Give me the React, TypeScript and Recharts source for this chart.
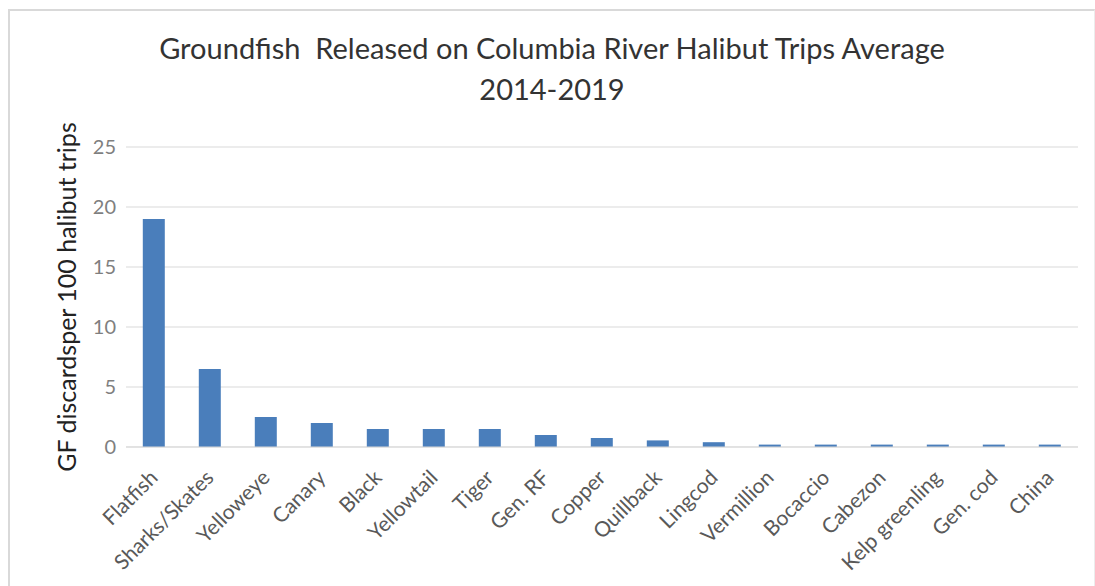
import React from "react";
import { BarChart, Bar, XAxis, YAxis, CartesianGrid } from "recharts";

const species = [
  "Flatfish",
  "Sharks/Skates",
  "Yelloweye",
  "Canary",
  "Black",
  "Yellowtail",
  "Tiger",
  "Gen. RF",
  "Copper",
  "Quillback",
  "Lingcod",
  "Vermillion",
  "Bocaccio",
  "Cabezon",
  "Kelp greenling",
  "Gen. cod",
  "China",
];

// discards per 100 halibut trips
const discards = [19, 6.5, 2.5, 2, 1.5, 1.5, 1.5, 1, 0.75, 0.55, 0.4, 0.2, 0.2, 0.2, 0.2, 0.2, 0.2];

const yTicks = [0, 5, 10, 15, 20, 25];

const data = species.map((name, i) => ({ name, value: discards[i] }));

const FONT = "Lato, 'Open Sans', sans-serif";

function SpeciesTick(props: any) {
  const { x, y, payload } = props;
  const ax = x + 5;
  const ay = y + 24;
  return (
    <text
      x={ax}
      y={ay}
      transform={`rotate(-45, ${ax}, ${ay})`}
      textAnchor="end"
      fill="#595959"
      fontSize={21}
      fontFamily={FONT}
    >
      {payload.value}
    </text>
  );
}

export default function App() {
  return (
    <div
      style={{
        position: "absolute",
        left: 8,
        top: 9,
        width: 1084,
        height: 577,
        borderTop: "2px solid #d9d9d9",
        borderLeft: "2px solid #d9d9d9",
        borderRight: "1px solid #ececec",
        background: "#fff",
        fontFamily: FONT,
      }}
    >
      <div
        style={{
          position: "absolute",
          left: 0,
          width: "100%",
          top: 16,
          textAlign: "center",
          fontSize: 29,
          color: "#333",
          lineHeight: "41px",
        }}
      >
        <div>Groundfish&nbsp; Released on Columbia River Halibut Trips Average</div>
        <div>2014-2019</div>
      </div>
      <BarChart
        width={1084}
        height={575}
        data={data}
        margin={{ top: 136, right: 16, bottom: 0, left: 0 }}
        barCategoryGap="30%"
      >
        <CartesianGrid vertical={false} stroke="#d9d9d9" />
        <XAxis
          dataKey="name"
          interval={0}
          tickLine={false}
          axisLine={{ stroke: "#d9d9d9" }}
          height={139}
          tick={<SpeciesTick />}
        />
        <YAxis
          domain={[0, 25]}
          ticks={yTicks}
          width={116}
          tickLine={false}
          axisLine={false}
          tick={{ fill: "#7f7f7f", fontSize: 20, fontFamily: FONT }}
          tickMargin={4}
          label={({ viewBox }: any) => (
            <text
              x={viewBox.x + 66}
              y={viewBox.y + viewBox.height / 2}
              transform={`rotate(-90, ${viewBox.x + 66}, ${viewBox.y + viewBox.height / 2})`}
              textAnchor="middle"
              fill="#222"
              fontSize={25}
              fontFamily={FONT}
            >
              GF discardsper 100 halibut trips
            </text>
          )}
        />
        <Bar dataKey="value" fill="#4a7ebb" isAnimationActive={false} />
      </BarChart>
    </div>
  );
}
